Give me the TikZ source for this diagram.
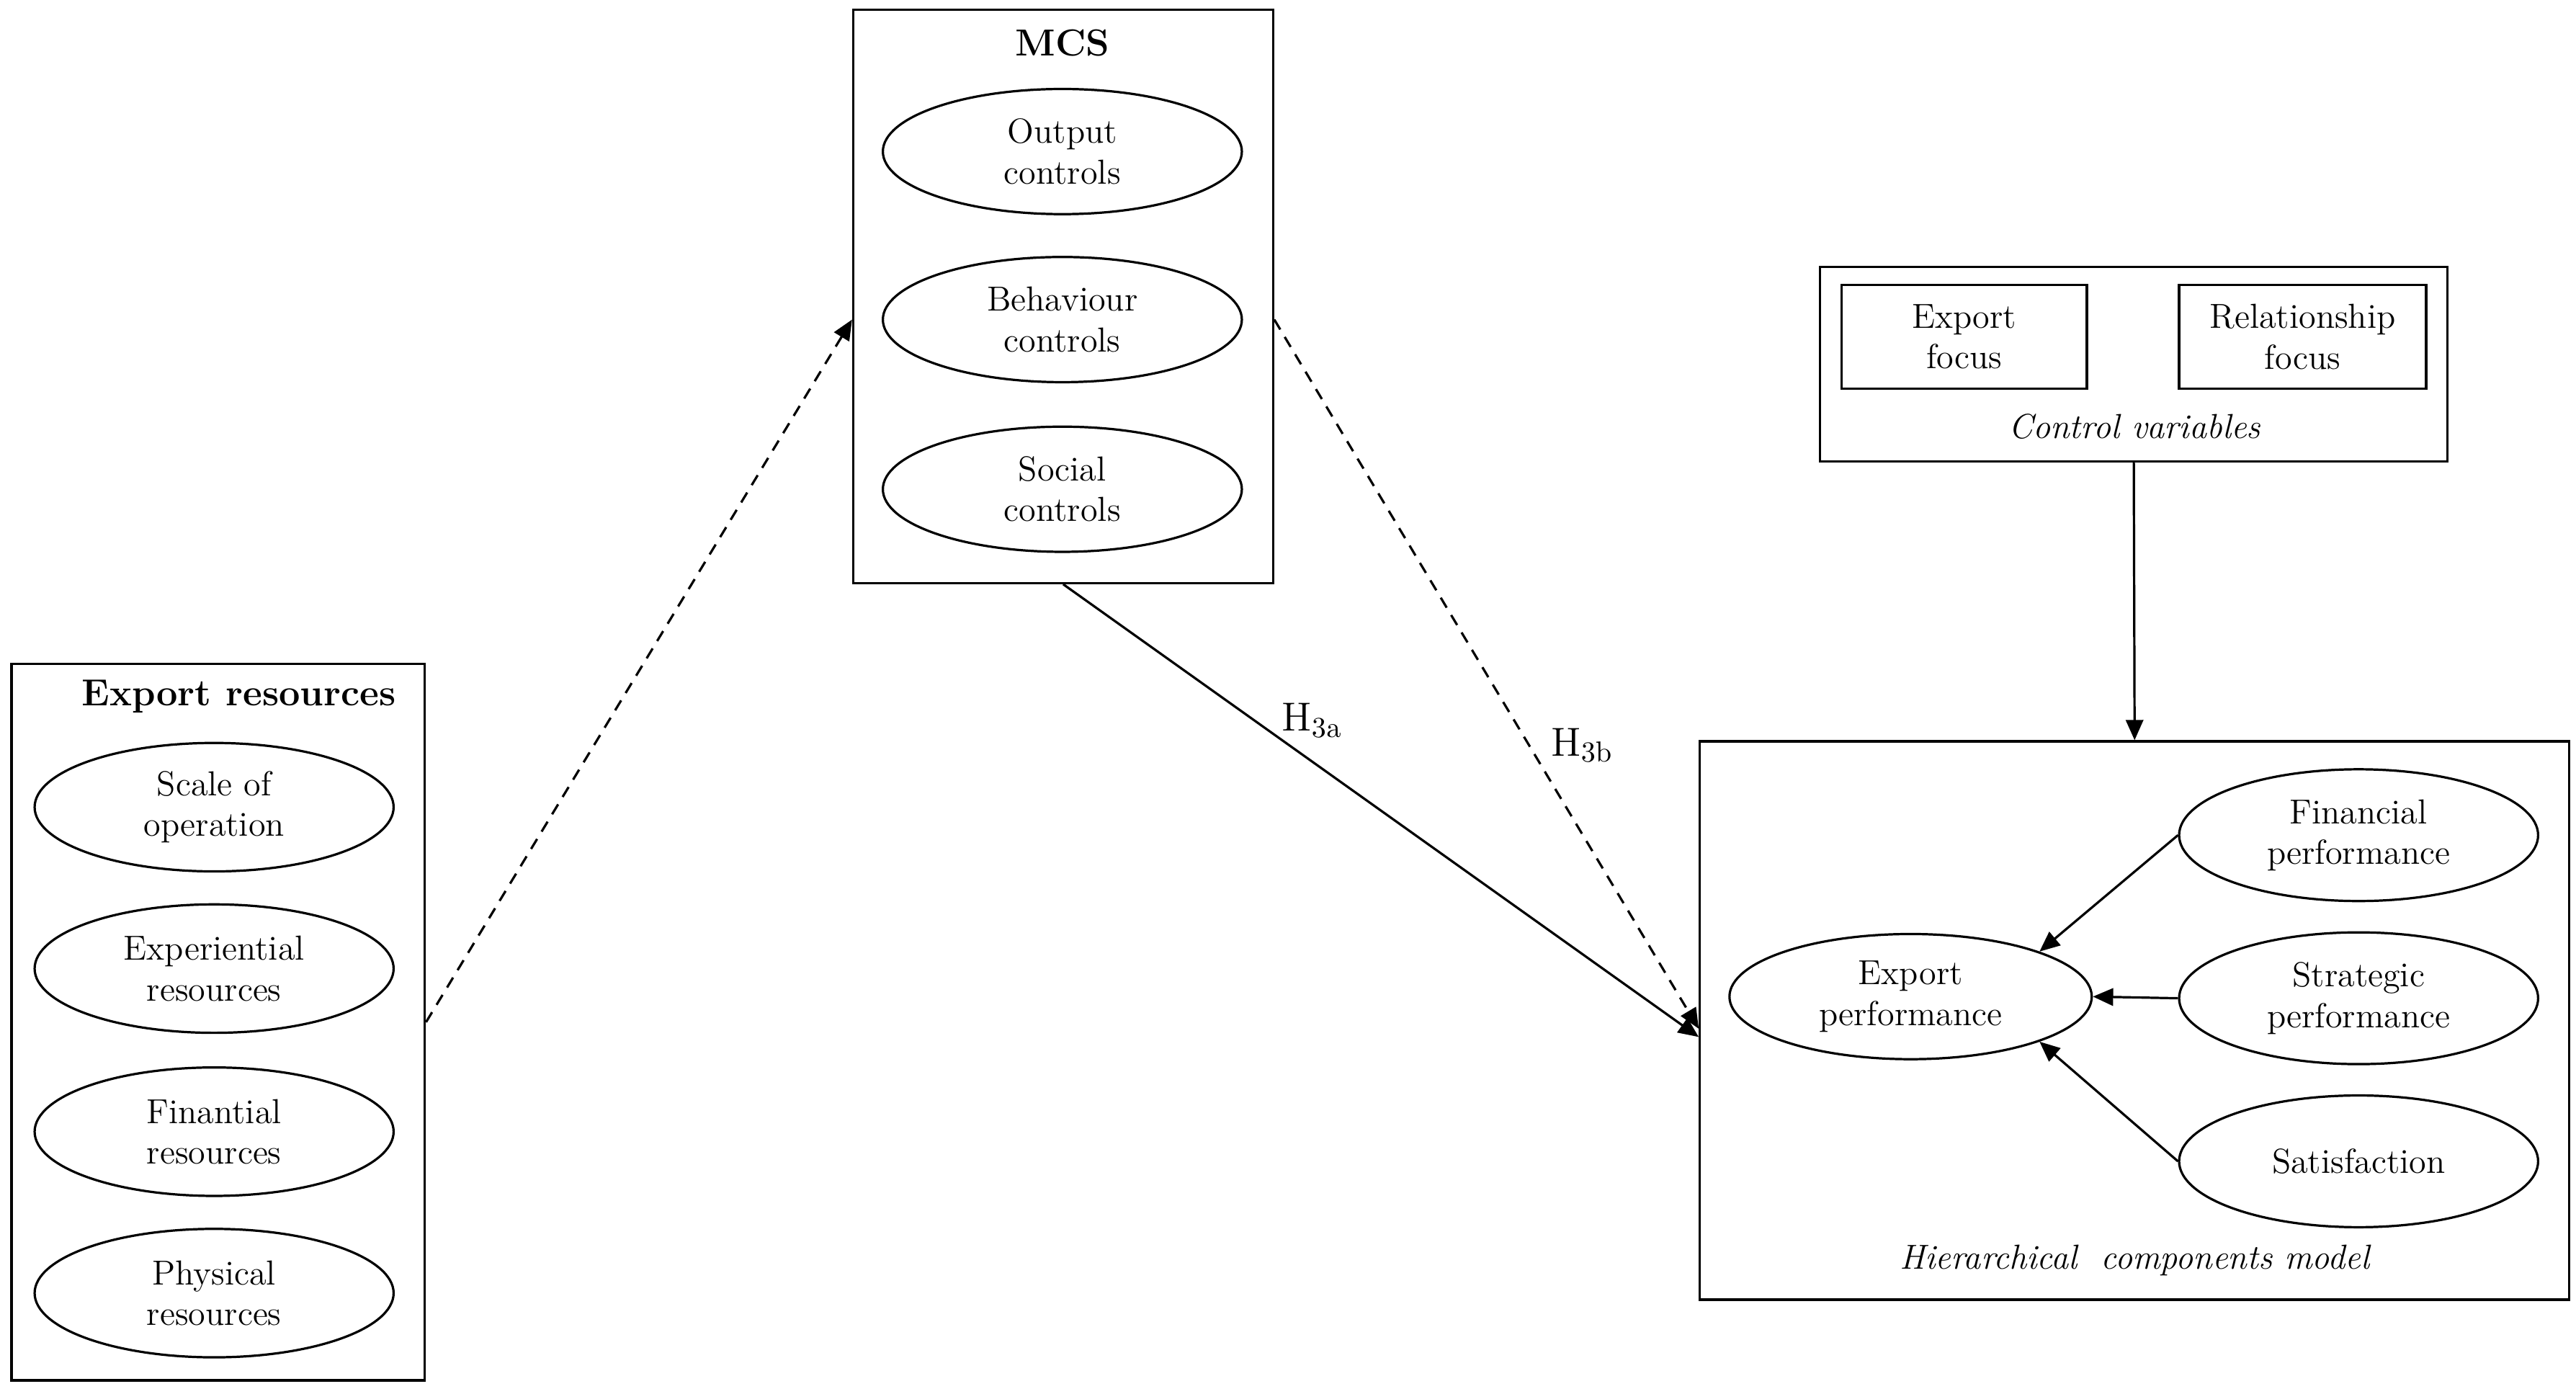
\documentclass[tikz,border=0pt]{standalone}
\usetikzlibrary{arrows.meta,positioning,shapes.geometric}

\begin{document}
\begin{tikzpicture}[
    x=0.02cm, y=-0.02cm,
    >={Triangle[length=7pt,width=6pt]},
    every node/.style={font=\fontsize{12}{14}\selectfont},
    oval/.style={draw, thick, ellipse, inner sep=0pt, align=center},
    frame/.style={draw, thick},
    arrow/.style={->, thick},
    dasharrow/.style={->, thick, dash pattern=on 4pt off 3pt}
]
\useasboundingbox (0,0) rectangle (1564,843);

% ---- MCS ----
\node[frame, minimum width=5.1cm, minimum height=6.96cm] (mcsbox) at (645.5,180) {};
\node[font=\fontsize{13}{15}\selectfont\bfseries] (mcs) at (645,26) {MCS};
\node[oval, minimum width=4.36cm, minimum height=1.52cm] (output) at (645,92) {Output\\controls};
\node[oval, minimum width=4.36cm, minimum height=1.52cm] (behaviour) at (645,194) {Behaviour\\controls};
\node[oval, minimum width=4.36cm, minimum height=1.52cm] (social) at (645,297) {Social\\controls};

% ---- Export resources ----
\node[frame, minimum width=5.02cm, minimum height=8.7cm] (resbox) at (132.5,620.5) {};
\node[font=\fontsize{13}{15}\selectfont\bfseries] (res) at (145,423) {Export resources};
\node[oval, minimum width=4.36cm, minimum height=1.56cm] (scale) at (130,490) {Scale of\\operation};
\node[oval, minimum width=4.36cm, minimum height=1.56cm] (experiential) at (130,588) {Experiential\\resources};
\node[oval, minimum width=4.36cm, minimum height=1.56cm] (finantial) at (130,687) {Finantial\\resources};
\node[oval, minimum width=4.36cm, minimum height=1.56cm] (physical) at (130,785) {Physical\\resources};

% ---- Control variables ----
\node[frame, minimum width=7.62cm, minimum height=2.36cm] (ctrlbox) at (1295.5,221) {};
\node[frame, minimum width=2.98cm, minimum height=1.26cm, align=center] (focus) at (1192.5,204.5) {Export\\focus};
\node[frame, minimum width=3cm, minimum height=1.26cm, align=center] (relfocus) at (1398,204.5) {Relationship\\focus};
\node[font=\fontsize{12}{14}\selectfont\itshape] (ctrl) at (1296,259) {Control variables};

% ---- Hierarchical components model ----
\node[frame, minimum width=10.56cm, minimum height=6.78cm] (hcmbox) at (1296,619.5) {};
\node[font=\fontsize{12}{14}\selectfont\itshape] (hcm) at (1296,765) {Hierarchical\ \ components model};
\node[oval, minimum width=4.4cm, minimum height=1.52cm] (expperf) at (1160,605) {Export\\performance};
\node[oval, minimum width=4.36cm, minimum height=1.6cm] (financial) at (1432,507) {Financial\\performance};
\node[oval, minimum width=4.36cm, minimum height=1.6cm] (strategic) at (1432,606) {Strategic\\performance};
\node[oval, minimum width=4.36cm, minimum height=1.6cm] (satisfaction) at (1432,705) {Satisfaction};

% ---- Paths ----
\draw[dasharrow] (resbox.east) -- (behaviour.west -| mcsbox.west);
\draw[arrow] (mcsbox.south) -- node[pos=0.3, right=6pt, font=\fontsize{14}{16}\selectfont] {H$_{3\mathrm{a}}$} ([yshift=-0.2cm]hcmbox.west);
\draw[dasharrow] (behaviour.east -| mcsbox.east) -- node[pos=0.6, right=4pt, font=\fontsize{14}{16}\selectfont] {H$_{3\mathrm{b}}$} ([yshift=-0.1cm]hcmbox.west);
\draw[arrow] (ctrlbox.south) -- (hcmbox.north);
\draw[arrow] (financial.west) -- (expperf.north east);
\draw[arrow] (strategic.west) -- (expperf.east);
\draw[arrow] (satisfaction.west) -- (expperf.south east);

\end{tikzpicture}
\end{document}
